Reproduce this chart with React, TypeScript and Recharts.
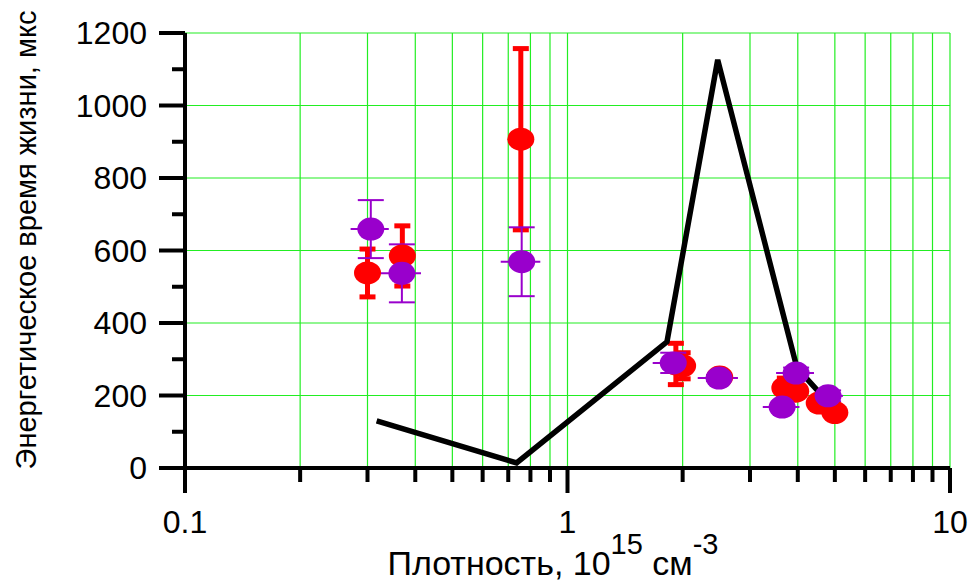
import {
  CartesianGrid,
  ComposedChart,
  ErrorBar,
  Line,
  Scatter,
  XAxis,
  YAxis,
} from "recharts";

// Energy lifetime vs. density: two measured series with error bars on a log
// x axis, plus the black model curve on top.

const FONT = "'Liberation Sans', Arial, sans-serif";

const xTicks = [0.1, 0.2, 0.3, 0.4, 0.5, 0.6, 0.7, 0.8, 0.9, 1, 2, 3, 4, 5, 6, 7, 8, 9, 10];
const xMajor = [0.1, 1, 10];
const yTicks = [0, 100, 200, 300, 400, 500, 600, 700, 800, 900, 1000, 1100, 1200];
const yGrid = [0, 200, 400, 600, 800, 1000, 1200];

// red series (vertical error only)
const redX = [0.3, 0.37, 0.755, 1.92, 2.0, 2.5, 3.7, 3.95, 4.55, 5.0];
const redY = [538, 585, 907, 287, 282, 251, 221, 212, 179, 153];
const redErr = [66, 83, 250, 57, 36, 0, 27, 15, 8, 8];

// purple series (both directions)
const purpleX = [0.306, 0.369, 0.759, 1.89, 2.49, 3.64, 3.96, 4.8];
const purpleY = [659, 537, 569, 290, 248, 168, 262, 199];
const purpleErrY = [80, 80, 95, 28, 8, 5, 15, 15];
const purpleErrX = [0.035, 0.045, 0.09, 0.22, 0.3, 0.4, 0.45, 0.45];

// model curve
const lineX = [0.317, 0.736, 1.82, 2.47, 3.98, 4.8];
const lineY = [130, 14, 348, 1126, 276, 182];

const redData = redX.map((x, i) => ({ x, y: redY[i], ey: redErr[i] }));
const purpleData = purpleX.map((x, i) => ({
  x,
  y: purpleY[i],
  ey: purpleErrY[i],
  ex: purpleErrX[i],
}));
const lineData = lineX.map((x, i) => ({ x, y: lineY[i] }));

function XTick({ x, y, payload }: any) {
  const major = xMajor.includes(payload.value);
  return (
    <g>
      <line x1={x} y1={y} x2={x} y2={y + (major ? 25 : 14)} stroke="#000" strokeWidth={4} />
      {major && (
        <text x={x} y={y + 65} textAnchor="middle" fontSize={32} fontFamily={FONT} fill="#000">
          {payload.value}
        </text>
      )}
    </g>
  );
}

function YTick({ x, y, payload }: any) {
  const major = payload.value % 200 === 0;
  return (
    <g>
      <line x1={x} y1={y} x2={x - (major ? 26 : 13)} y2={y} stroke="#000" strokeWidth={4} />
      {major && (
        <text x={x - 38} y={y + 11} textAnchor="end" fontSize={32} fontFamily={FONT} fill="#000">
          {payload.value}
        </text>
      )}
    </g>
  );
}

const dot = (color: string) => (props: any) =>
  <ellipse cx={props.cx} cy={props.cy} rx={13.5} ry={11.5} fill={color} />;

export default function App() {
  return (
    <div style={{ position: "absolute", left: 0, top: 0, width: 972, height: 584, background: "#fff" }}>
      <ComposedChart
        width={972}
        height={584}
        margin={{ top: 33, right: 22, left: 0, bottom: 0 }}
      >
        <CartesianGrid
          stroke="#22ee22"
          strokeWidth={1.2}
          verticalValues={xTicks}
          horizontalValues={yGrid}
        />
        <XAxis
          dataKey="x"
          type="number"
          scale="log"
          domain={[0.1, 10]}
          allowDataOverflow
          ticks={xTicks}
          interval={0}
          height={116}
          tickSize={0}
          tickMargin={0}
          tickLine={false}
          axisLine={{ stroke: "#000", strokeWidth: 4 }}
          tick={<XTick />}
        />
        <YAxis
          type="number"
          domain={[0, 1200]}
          ticks={yTicks}
          interval={0}
          width={185}
          tickSize={0}
          tickMargin={0}
          tickLine={false}
          axisLine={{ stroke: "#000", strokeWidth: 4 }}
          tick={<YTick />}
        />
        <Scatter data={redData} dataKey="y" shape={dot("#ff0000")} isAnimationActive={false}>
          <ErrorBar dataKey="ey" direction="y" width={8} stroke="#ff0000" strokeWidth={5} />
        </Scatter>
        <Scatter data={purpleData} dataKey="y" shape={dot("#9900cc")} isAnimationActive={false}>
          <ErrorBar dataKey="ey" direction="y" width={13} stroke="#9900cc" strokeWidth={2} />
          <ErrorBar dataKey="ex" direction="x" width={0} stroke="#9900cc" strokeWidth={2} />
        </Scatter>
        <Line
          data={lineData}
          dataKey="y"
          stroke="#000"
          strokeWidth={5.5}
          dot={false}
          isAnimationActive={false}
        />
      </ComposedChart>
      <svg
        width={972}
        height={584}
        style={{ position: "absolute", left: 0, top: 0, pointerEvents: "none" }}
      >
        <text
          transform="translate(36,240) rotate(-90)"
          textAnchor="middle"
          fontSize={29}
          fontFamily={FONT}
          fill="#000"
        >
          Энергетическое время жизни, мкс
        </text>
        <text x={553} y={575} textAnchor="middle" fontSize={34} fontFamily={FONT} fill="#000">
          {"Плотность, 10"}<tspan dy={-21} fontSize={29}>{"15"}</tspan><tspan dy={21}>{" см"}</tspan><tspan dy={-21} fontSize={29}>{"-3"}</tspan>
        </text>
      </svg>
    </div>
  );
}
